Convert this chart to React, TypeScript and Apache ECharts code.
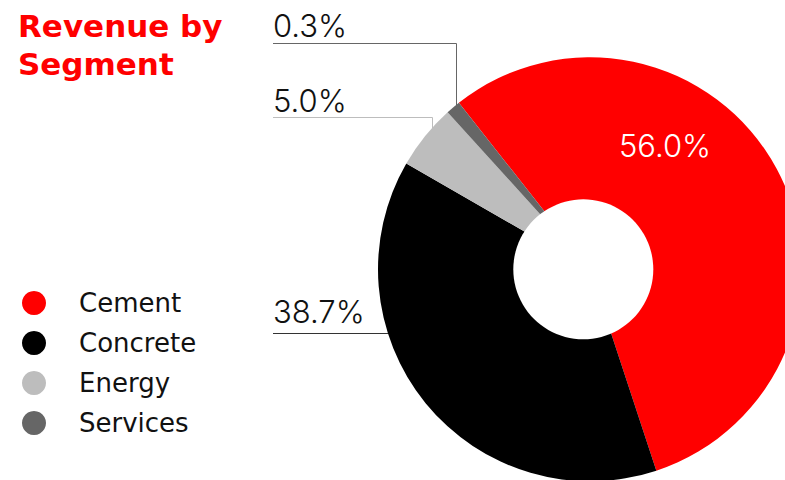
import React, { useEffect, useRef } from "react";
import * as echarts from "echarts";

// ---- data ----
const categories = ["Cement", "Concrete", "Energy", "Services"];
const shares = [56.0, 38.7, 5.0, 0.3];
const sliceColors = ["#ff0000", "#000000", "#bdbdbd", "#666666"];
const lineColors = ["#ff0000", "#333333", "#bdbdbd", "#666666"];
const titleText = "Revenue by\nSegment";

// ---- layout ----
const W = 785;
const H = 480;
const CX = 590;
const CY = 269.3;
const R = 212;
const HOLE = { cx: 583.3, cy: 269.3, r: 70 };
const LABEL_LEFT = 273;
const FONT = "Inter, 'Noto Sans', sans-serif";
const WIDE_FONT = "'DejaVu Sans', sans-serif";

type LabelPlace =
  | { kind: "inside"; x: number; y: number }
  | { kind: "h"; lineY: number; textY: number }
  | { kind: "v"; lineY: number; anchorX: number; textY: number };

const labelPlaces: LabelPlace[] = [
  { kind: "inside", x: 665, y: 145 },
  { kind: "h", lineY: 333.5, textY: 311 },
  { kind: "v", lineY: 117.5, anchorX: 432.5, textY: 100.5 },
  { kind: "v", lineY: 43.5, anchorX: 456.5, textY: 25.5 },
];

export default function App() {
  const ref = useRef<HTMLDivElement>(null);

  useEffect(() => {
    if (!ref.current) return;
    const chart = echarts.init(ref.current, undefined, { renderer: "svg" });

    const data = categories.map((name, i) => ({
      name,
      value: shares[i],
      itemStyle: { color: sliceColors[i] },
      label:
        labelPlaces[i].kind === "inside"
          ? { color: "#ffffff" }
          : { color: "#111111" },
      labelLine: {
        show: labelPlaces[i].kind !== "inside",
        lineStyle: { color: lineColors[i], width: 1 },
      },
    }));

    chart.setOption({
      animation: false,
      title: {
        text: titleText,
        left: 13,
        top: 2,
        textStyle: {
          color: "#ff0000",
          fontSize: 31,
          fontWeight: "bold",
          fontFamily: WIDE_FONT,
          lineHeight: 38,
        },
      },
      legend: {
        orient: "vertical",
        left: 17,
        top: 285,
        icon: "circle",
        itemWidth: 24,
        itemHeight: 24,
        itemGap: 14,
        selectedMode: false,
        data: categories,
        textStyle: {
          fontSize: 26,
          lineHeight: 24,
          height: 24,
          color: "#111111",
          fontFamily: WIDE_FONT,
          padding: [0, 0, 0, 28],
        },
      },
      graphic: [
        {
          type: "circle",
          z: 100,
          shape: { cx: HOLE.cx, cy: HOLE.cy, r: HOLE.r },
          style: { fill: "#ffffff" },
          silent: true,
        },
      ],
      series: [
        {
          type: "pie",
          center: [CX, CY],
          radius: [0, R],
          startAngle: 128.2,
          clockwise: true,
          minAngle: 4,
          avoidLabelOverlap: false,
          silent: true,
          data,
          label: {
            show: true,
            position: "outside",
            formatter: (p: any) => `${Number(p.value).toFixed(1)}%`,
            fontSize: 31,
            fontWeight: 300,
            fontFamily: FONT,
          },
          labelLine: { show: true },
          labelLayout: (params: any) => {
            const place = labelPlaces[params.dataIndex];
            if (place.kind === "inside") {
              return {
                x: place.x,
                y: place.y,
                align: "center",
                verticalAlign: "middle",
              };
            }
            let pts: number[][];
            if (place.kind === "h") {
              const dx = Math.sqrt(R * R - (place.lineY - CY) ** 2);
              pts = [
                [CX - dx + 1, place.lineY],
                [CX - dx, place.lineY],
                [LABEL_LEFT, place.lineY],
              ];
            } else {
              const dy = Math.sqrt(R * R - (place.anchorX - CX) ** 2);
              pts = [
                [place.anchorX, CY - dy + 1],
                [place.anchorX, place.lineY],
                [LABEL_LEFT, place.lineY],
              ];
            }
            return {
              x: LABEL_LEFT,
              y: place.textY,
              align: "left",
              verticalAlign: "middle",
              labelLinePoints: pts,
            };
          },
        },
      ],
    });

    return () => chart.dispose();
  }, []);

  return (
    <div
      ref={ref}
      style={{
        position: "fixed",
        left: 0,
        top: 0,
        width: W,
        height: H,
        background: "#ffffff",
      }}
    />
  );
}
